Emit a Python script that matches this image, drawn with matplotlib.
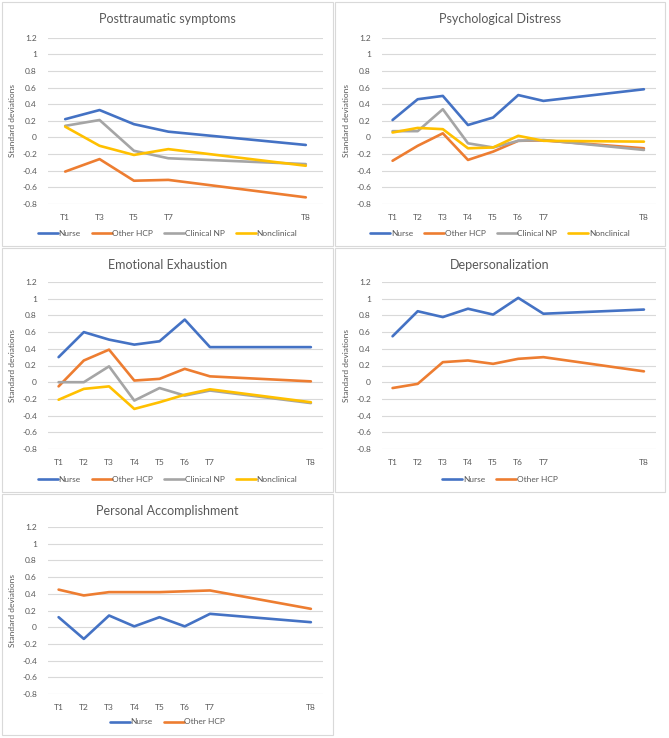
import matplotlib
matplotlib.use("Agg")
import matplotlib.pyplot as plt
from matplotlib.patches import Rectangle

plt.rcParams['font.family'] = ['Lato', 'DejaVu Sans']

# x positions of the time points (Excel date-like axis)
x_ptsd = [0, 2, 4, 6, 14]
labels_ptsd = ['T1', 'T3', 'T5', 'T7', 'T8']
x_full = [0, 1, 2, 3, 4, 5, 6, 10]
labels_full = ['T1', 'T2', 'T3', 'T4', 'T5', 'T6', 'T7', 'T8']

# Posttraumatic symptoms
ptsd_nurse = [0.22, 0.33, 0.16, 0.07, -0.09]
ptsd_other = [-0.41, -0.26, -0.52, -0.51, -0.72]
ptsd_clin = [0.14, 0.21, -0.16, -0.25, -0.32]
ptsd_nonclin = [0.13, -0.10, -0.21, -0.14, -0.34]

# Psychological distress
pd_nurse = [0.21, 0.46, 0.50, 0.15, 0.24, 0.51, 0.44, 0.58]
pd_other = [-0.28, -0.10, 0.05, -0.27, -0.17, -0.04, -0.035, -0.13]
pd_clin = [0.076, 0.076, 0.34, -0.07, -0.12, -0.04, -0.03, -0.15]
pd_nonclin = [0.06, 0.115, 0.10, -0.13, -0.12, 0.02, -0.04, -0.05]

# Emotional exhaustion
ee_nurse = [0.30, 0.60, 0.51, 0.45, 0.49, 0.75, 0.42, 0.42]
ee_other = [-0.05, 0.26, 0.39, 0.02, 0.04, 0.16, 0.07, 0.01]
ee_clin = [0.0, 0.0, 0.19, -0.22, -0.07, -0.16, -0.10, -0.25]
ee_nonclin = [-0.21, -0.08, -0.05, -0.32, -0.24, -0.15, -0.085, -0.24]

# Depersonalization
dp_nurse = [0.55, 0.85, 0.78, 0.88, 0.81, 1.01, 0.82, 0.87]
dp_other = [-0.07, -0.02, 0.24, 0.26, 0.22, 0.28, 0.30, 0.13]

# Personal accomplishment
pa_nurse = [0.12, -0.14, 0.14, 0.01, 0.12, 0.01, 0.16, 0.06]
pa_other = [0.45, 0.38, 0.42, 0.42, 0.42, 0.43, 0.44, 0.22]

colors = {'Nurse': '#4472C4', 'Other HCP': '#ED7D31',
          'Clinical NP': '#A5A5A5', 'Nonclinical': '#FFC000'}
txt = '#595959'

W, H = 669, 738
fig = plt.figure(figsize=(W / 100, H / 100), dpi=100)


def panel(box, plot, title, xs, xlabels, xlim, series):
    # box / plot in pixels: (left, top, right, bottom)
    l, t, r, b = box
    fig.patches.append(Rectangle((l / W, 1 - b / H), (r - l) / W, (b - t) / H,
                                 transform=fig.transFigure, fill=False,
                                 edgecolor='#d9d9d9', lw=0.8))
    pl, pt, pr, pb = plot
    ax = fig.add_axes([pl / W, 1 - pb / H, (pr - pl) / W, (pb - pt) / H])
    for name, vals in series:
        ax.plot(xs, vals, color=colors[name], lw=1.9, label=name,
                solid_joinstyle='round', solid_capstyle='round')
    ax.set_ylim(-0.8, 1.2)
    ax.set_xlim(*xlim)
    yt = [-0.8, -0.6, -0.4, -0.2, 0, 0.2, 0.4, 0.6, 0.8, 1, 1.2]
    ax.set_yticks(yt)
    ax.set_yticklabels([('%g' % v) for v in yt])
    ax.set_xticks(xs)
    ax.set_xticklabels(xlabels)
    ax.tick_params(length=0, labelsize=6, labelcolor=txt, pad=7)
    ax.tick_params(axis='y', pad=8)
    ax.grid(axis='y', color='#d9d9d9', lw=0.8)
    ax.set_axisbelow(True)
    for s in ax.spines.values():
        s.set_visible(False)
    ax.set_ylabel('Standard deviations', fontsize=6, color=txt, labelpad=4)
    fig.text((l + r) / 2 / W, 1 - (t + 17) / H, title, ha='center',
             va='center', fontsize=9, color=txt)
    n = len(series)
    fig.legend(*ax.get_legend_handles_labels(), loc='center',
               bbox_to_anchor=((l + r) / 2 / W, 1 - (b - 13) / H),
               ncol=n, frameon=False, fontsize=6, labelcolor=txt,
               handlelength=2.4, handletextpad=0.1, columnspacing=1.3)
    return ax


four = lambda a, b, c, d: [('Nurse', a), ('Other HCP', b),
                           ('Clinical NP', c), ('Nonclinical', d)]

panel((2, 2, 333, 246), (48, 37.7, 323, 204), 'Posttraumatic symptoms',
      x_ptsd, labels_ptsd, (-1, 15),
      four(ptsd_nurse, ptsd_other, ptsd_clin, ptsd_nonclin))
panel((335, 2, 665, 246), (382, 37.7, 656, 204), 'Psychological Distress',
      x_full, labels_full, (-0.42, 10.48),
      four(pd_nurse, pd_other, pd_clin, pd_nonclin))
panel((2, 248, 333, 492), (48, 282, 323, 449), 'Emotional Exhaustion',
      x_full, labels_full, (-0.42, 10.48),
      four(ee_nurse, ee_other, ee_clin, ee_nonclin))
panel((335, 248, 665, 492), (382, 282, 656, 449), 'Depersonalization',
      x_full, labels_full, (-0.42, 10.48),
      [('Nurse', dp_nurse), ('Other HCP', dp_other)])
panel((2, 494, 333, 735), (48, 527, 323, 694), 'Personal Accomplishment',
      x_full, labels_full, (-0.42, 10.48),
      [('Nurse', pa_nurse), ('Other HCP', pa_other)])

fig.savefig('out.png', dpi=100, facecolor='white')
